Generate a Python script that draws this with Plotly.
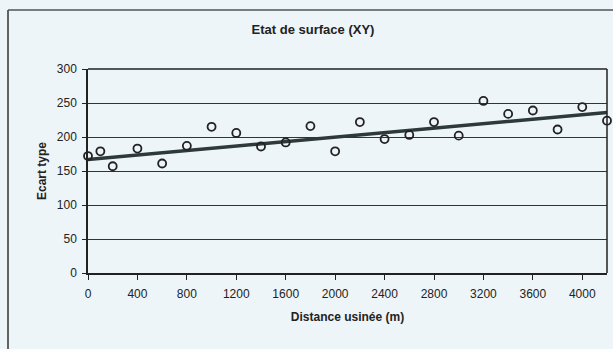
import plotly.graph_objects as go

distance = [0, 100, 200, 400, 600, 800, 1000, 1200, 1400, 1600, 1800, 2000, 2200,
            2400, 2600, 2800, 3000, 3200, 3400, 3600, 3800, 4000, 4200]
ecart = [172, 179, 157, 183, 161, 187, 215, 206, 186, 192, 216, 179, 222,
         197, 203, 222, 202, 253, 234, 239, 211, 244, 224]
trend_x = [0, 4200]
trend_y = [167, 236]
x_ticks = list(range(0, 4001, 400))
y_ticks = list(range(0, 301, 50))

W, H = 613, 349
ML, MR, MT, MB = 88, 6, 69, 349 - 273
pw, ph = W - ML - MR, H - MT - MB

def px(x):
    return (x - ML) / pw

def py(y):
    return (H - MB - y) / ph

bg = "#eef5f8"
ink = "#222222"

fig = go.Figure()
fig.add_trace(go.Scatter(x=trend_x, y=trend_y, mode="lines",
                         line=dict(color="#2e3a3a", width=3.5), showlegend=False))
fig.add_trace(go.Scatter(x=distance, y=ecart, mode="markers",
                         marker=dict(symbol="circle-open", size=8,
                                     line=dict(color=ink, width=1.8), color=ink),
                         showlegend=False, cliponaxis=False))

fig.update_layout(
    width=W, height=H,
    margin=dict(l=ML, r=MR, t=MT, b=MB),
    paper_bgcolor=bg, plot_bgcolor=bg,
    font=dict(family="Liberation Sans, Arial, sans-serif", color=ink, size=12),
    title=dict(text="<b>Etat de surface (XY)</b>", x=313 / W, xanchor="center",
               y=1 - 29 / H, yanchor="middle", font=dict(size=13)),
    xaxis=dict(range=[0, 4200], tickvals=x_ticks, showgrid=False, zeroline=False,
               showline=True, linecolor=ink, linewidth=1.5,
               ticks="outside", ticklen=5, tickcolor=ink, tickwidth=1.2,
               ticklabelstandoff=4, tickfont=dict(size=12),
               title=dict(text="<b>Distance usinée (m)</b>", font=dict(size=12), standoff=12)),
    yaxis=dict(range=[0, 300], tickvals=y_ticks, showgrid=True, gridcolor="#333333",
               gridwidth=1.2, zeroline=False, showline=True, linecolor=ink, linewidth=1.5,
               ticks="outside", ticklen=4, tickcolor=ink, tickwidth=1.2,
               ticklabelstandoff=3, tickfont=dict(size=12),
               title=dict(text="<b>Ecart type</b>", font=dict(size=12), standoff=8)),
    shapes=[
        dict(type="line", xref="paper", yref="paper", x0=1, x1=1, y0=0, y1=1,
             line=dict(color=ink, width=1.5)),
        dict(type="line", xref="paper", yref="paper", x0=0, x1=1, y0=1, y1=1,
             line=dict(color=ink, width=1.5)),
        dict(type="line", xref="paper", yref="paper", x0=px(8), x1=px(8),
             y0=py(10), y1=py(H + 5), line=dict(color="#333333", width=1.5)),
        dict(type="line", xref="paper", yref="paper", x0=px(8), x1=px(W + 5),
             y0=py(10), y1=py(10), line=dict(color="#555555", width=1.5)),
    ],
)

fig.write_html("out.html",
               config={"displayModeBar": False},
               post_script="document.body.style.margin='0';document.body.style.overflow='hidden';")
